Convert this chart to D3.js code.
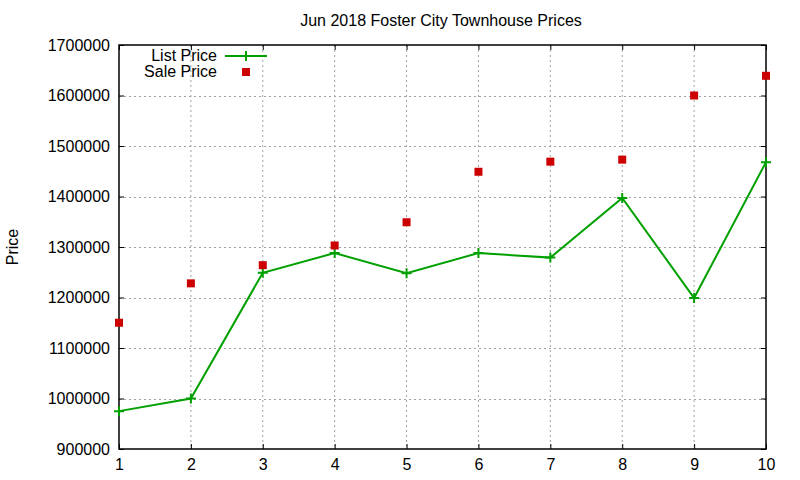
<!DOCTYPE html>
<html lang="en">
<head>
<meta charset="utf-8">
<script src="https://d3js.org/d3.v7.min.js"></script>
<style>
  body { margin: 0; background: #fff; }
  text { font-family: "Liberation Sans", Arial, sans-serif; fill: #000; }
</style>
</head>
<body>
<div id="graph"></div>
<script>
// data
var months = [1, 2, 3, 4, 5, 6, 7, 8, 9, 10];
var listPrice = [975000, 1000000, 1249000, 1288000, 1248000, 1288000, 1279000, 1397000, 1199000, 1468000];
var salePrice = [1150000, 1228000, 1264000, 1303000, 1349000, 1449000, 1469000, 1473000, 1600000, 1639000];
var yTicks = [900000, 1000000, 1100000, 1200000, 1300000, 1400000, 1500000, 1600000, 1700000];
var xTicks = [1, 2, 3, 4, 5, 6, 7, 8, 9, 10];

var W = 800, H = 480;
var margin = {top: 45, right: 34, bottom: 31, left: 119},
    width = W - margin.left - margin.right,
    height = H - margin.top - margin.bottom;

var green = "#00a000", red = "#cc0000";

var svg = d3.select("#graph")
  .append("svg")
    .attr("width", W)
    .attr("height", H);

var g = svg.append("g")
    .attr("transform", "translate(" + margin.left + "," + margin.top + ")");

var x = d3.scaleLinear().domain([1, 10]).range([0, width]);
var y = d3.scaleLinear().domain([900000, 1700000]).range([height, 0]);

// grid
g.append("g").selectAll("line")
  .data(xTicks.slice(1, -1))
  .enter().append("line")
    .attr("x1", function(d) { return x(d); })
    .attr("x2", function(d) { return x(d); })
    .attr("y1", 0).attr("y2", height)
    .attr("stroke", "#a0a0a0")
    .attr("stroke-width", 1)
    .attr("stroke-dasharray", "2,3");

g.append("g").selectAll("line")
  .data(yTicks.slice(1, -1))
  .enter().append("line")
    .attr("x1", 0).attr("x2", width)
    .attr("y1", function(d) { return Math.round(y(d)) + 0.5; })
    .attr("y2", function(d) { return Math.round(y(d)) + 0.5; })
    .attr("stroke", "#a0a0a0")
    .attr("stroke-width", 1)
    .attr("stroke-dasharray", "2,3");

// axes (ticks point inward, mirrored on all sides)
function styleAxis(sel) {
  sel.select(".domain").remove();
  sel.selectAll(".tick line").attr("stroke", "#000");
  sel.selectAll(".tick text")
    .style("font-size", "16px")
    .style("font-family", "Liberation Sans, Arial, sans-serif")
    .attr("fill", "#000");
}

g.append("g")
  .attr("transform", "translate(0," + height + ")")
  .call(d3.axisBottom(x).tickValues(xTicks).tickFormat(d3.format("d"))
    .tickSizeInner(-5).tickSizeOuter(0).tickPadding(10))
  .call(styleAxis);

g.append("g")
  .call(d3.axisTop(x).tickValues(xTicks).tickFormat("")
    .tickSizeInner(-5).tickSizeOuter(0))
  .call(styleAxis);

g.append("g")
  .call(d3.axisLeft(y).tickValues(yTicks).tickFormat(d3.format("d"))
    .tickSizeInner(-5).tickSizeOuter(0).tickPadding(9))
  .call(styleAxis);

g.append("g")
  .attr("transform", "translate(" + width + ",0)")
  .call(d3.axisRight(y).tickValues(yTicks).tickFormat("")
    .tickSizeInner(-5).tickSizeOuter(0))
  .call(styleAxis);

// border
g.append("rect")
  .attr("x", 0).attr("y", 0)
  .attr("width", width).attr("height", height)
  .attr("fill", "none")
  .attr("stroke", "#000")
  .attr("stroke-width", 1.5);

// list price line
var line = d3.line()
  .x(function(d, i) { return x(months[i]); })
  .y(function(d) { return y(d); });

g.append("path")
  .datum(listPrice)
  .attr("d", line)
  .attr("fill", "none")
  .attr("stroke", green)
  .attr("stroke-width", 2);

// gnuplot style "+" marker
function plusPath(s) {
  return "M" + (-s) + ",0H" + s + "M0," + (-s) + "V" + s;
}

g.append("g").selectAll("path")
  .data(listPrice)
  .enter().append("path")
    .attr("transform", function(d, i) { return "translate(" + x(months[i]) + "," + y(d) + ")"; })
    .attr("d", plusPath(5))
    .attr("stroke", green)
    .attr("stroke-width", 2)
    .attr("fill", "none");

// sale price points
g.append("g").selectAll("rect")
  .data(salePrice)
  .enter().append("rect")
    .attr("x", function(d, i) { return x(months[i]) - 4; })
    .attr("y", function(d) { return y(d) - 4; })
    .attr("width", 8).attr("height", 8)
    .attr("fill", red);

// title
svg.append("text")
  .attr("x", 441).attr("y", 26)
  .attr("text-anchor", "middle")
  .style("font-size", "16px")
  .text("Jun 2018 Foster City Townhouse Prices");

// y label
svg.append("text")
  .attr("transform", "translate(18," + (margin.top + height / 2) + ") rotate(-90)")
  .attr("text-anchor", "middle")
  .style("font-size", "16px")
  .text("Price");

// legend
var legend = svg.append("g");
legend.append("text")
  .attr("x", 217).attr("y", 61)
  .attr("text-anchor", "end")
  .style("font-size", "16px")
  .text("List Price");
legend.append("line")
  .attr("x1", 225).attr("x2", 267)
  .attr("y1", 56).attr("y2", 56)
  .attr("stroke", green).attr("stroke-width", 2);
legend.append("path")
  .attr("transform", "translate(246,56)")
  .attr("d", plusPath(5))
  .attr("stroke", green).attr("stroke-width", 2);

legend.append("text")
  .attr("x", 217).attr("y", 77)
  .attr("text-anchor", "end")
  .style("font-size", "16px")
  .text("Sale Price");
legend.append("rect")
  .attr("x", 242).attr("y", 68)
  .attr("width", 8).attr("height", 8)
  .attr("fill", red);
</script>
</body>
</html>
